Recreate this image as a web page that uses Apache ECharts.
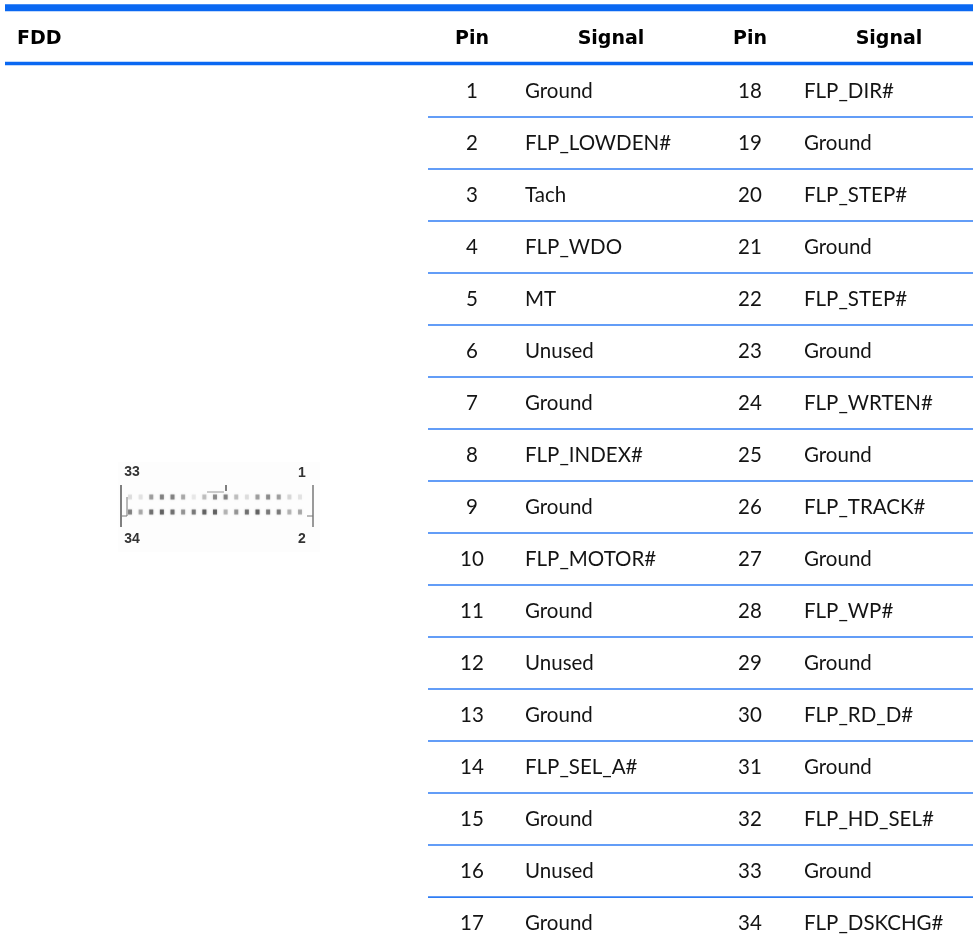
<!DOCTYPE html>
<html>
<head>
  <meta charset="utf-8">
  <title>FDD connector</title>
  <script src="https://cdn.jsdelivr.net/npm/echarts@6/dist/echarts.min.js"></script>
  <style>
    html, body { margin: 0; padding: 0; background: #fff; }
  </style>
</head>
<body>
<div id="main" style="width: 973px;height:947px;"></div>

<script type="text/javascript">
  var headers = ['FDD', 'Pin', 'Signal', 'Pin', 'Signal'];
  var pinsLeft = ['1', '2', '3', '4', '5', '6', '7', '8', '9', '10', '11', '12', '13', '14', '15', '16', '17'];
  var signalsLeft = ['Ground', 'FLP_LOWDEN#', 'Tach', 'FLP_WDO', 'MT', 'Unused', 'Ground', 'FLP_INDEX#', 'Ground',
    'FLP_MOTOR#', 'Ground', 'Unused', 'Ground', 'FLP_SEL_A#', 'Ground', 'Unused', 'Ground'];
  var pinsRight = ['18', '19', '20', '21', '22', '23', '24', '25', '26', '27', '28', '29', '30', '31', '32', '33', '34'];
  var signalsRight = ['FLP_DIR#', 'Ground', 'FLP_STEP#', 'Ground', 'FLP_STEP#', 'Ground', 'FLP_WRTEN#', 'Ground',
    'FLP_TRACK#', 'Ground', 'FLP_WP#', 'Ground', 'FLP_RD_D#', 'Ground', 'FLP_HD_SEL#', 'Ground', 'FLP_DSKCHG#'];
  // how dark each connector pin looks in the scan, pin column 1..17
  var pinsTopDark = [0.12, 0.1, 0.4, 0.55, 0.55, 0.35, 0.08, 0.25, 0.5, 0.55, 0.25, 0.12, 0.4, 0.5, 0.4, 0.15, 0.1];
  var pinsBottomDark = [0.55, 0.35, 0.65, 0.75, 0.65, 0.45, 0.6, 0.75, 0.75, 0.3, 0.45, 0.65, 0.75, 0.6, 0.6, 0.3, 0.35];

  var myChart = echarts.init(document.getElementById('main'));

  // x positions of the table columns
  var colFDD = 17, colPin1 = 472, colSig1 = 525, colPin2 = 750, colSig2 = 804;
  var sigHead1 = 611, sigHead2 = 889;
  var rowFont = 'Lato', headFont = 'DejaVu Sans';

  function textSeries(name, x, values, align, header) {
    return {
      name: name,
      type: 'scatter',
      xAxisIndex: 0,
      yAxisIndex: 0,
      symbolSize: 1,
      silent: true,
      itemStyle: {color: 'transparent', opacity: 1},
      data: values.map(function (v, i) {
        return {value: [x, header ? -1 : i], text: v};
      }),
      label: {
        show: true,
        position: 'inside',
        align: align,
        verticalAlign: 'middle',
        fontFamily: header ? headFont : rowFont,
        fontWeight: header ? 'bold' : 'normal',
        fontSize: header ? 19 : 20.5,
        color: header ? '#000' : '#141414',
        formatter: function (p) {
          return p.data.text;
        }
      }
    };
  }

  // table rules, in row units: header rules run full width, row rules start at the first Pin column
  var ruleData = [[5, -1.6, 7], [5, -0.53, 3.5]];
  for (var r = 0; r < pinsLeft.length - 1; r++) {
    ruleData.push([428, r + 0.5, 1.6]);
  }

  var connectorPins = [];
  for (var k = 0; k < pinsTopDark.length; k++) {
    connectorPins.push([k + 1, 1, pinsTopDark[k]]);
    connectorPins.push([k + 1, 2, pinsBottomDark[k]]);
  }

  var labelStyle = {fontFamily: 'Liberation Sans', fontWeight: 'bold', fontSize: 14, fill: '#333', align: 'center', verticalAlign: 'middle'};

  var option = {
    animation: false,
    backgroundColor: '#fff',
    grid: [
      {left: 0, right: 0, top: 0, bottom: 0},
      {left: 130, width: 170, top: 497, height: 15}
    ],
    xAxis: [
      {type: 'value', min: 0, max: 973, show: false},
      {type: 'value', gridIndex: 1, min: 1, max: 17, show: false}
    ],
    yAxis: [
      {type: 'value', min: -1.75, max: 16.46, inverse: true, show: false},
      {type: 'value', gridIndex: 1, min: 1, max: 2, inverse: true, show: false}
    ],
    graphic: [
      {type: 'rect', z: 0, shape: {x: 118, y: 462, width: 202, height: 90}, style: {fill: '#fdfdfd'}},
      {type: 'line', shape: {x1: 121, y1: 485, x2: 121, y2: 527}, style: {stroke: '#555', lineWidth: 1.5}},
      {type: 'polyline', shape: {points: [[122, 516], [127, 516], [127, 497]]}, style: {stroke: '#777', lineWidth: 1, fill: null}},
      {type: 'line', shape: {x1: 313, y1: 485, x2: 313, y2: 527}, style: {stroke: '#777', lineWidth: 1.5}},
      {type: 'line', shape: {x1: 307, y1: 516, x2: 313, y2: 516}, style: {stroke: '#777', lineWidth: 1}},
      {type: 'line', shape: {x1: 207, y1: 492, x2: 224, y2: 492}, style: {stroke: '#999', lineWidth: 1}},
      {type: 'line', shape: {x1: 226, y1: 485, x2: 226, y2: 491}, style: {stroke: '#555', lineWidth: 1.5}},
      {type: 'text', x: 132, y: 472, style: Object.assign({text: '33'}, labelStyle)},
      {type: 'text', x: 302, y: 473, style: Object.assign({text: '1'}, labelStyle)},
      {type: 'text', x: 132, y: 539, style: Object.assign({text: '34'}, labelStyle)},
      {type: 'text', x: 302, y: 539, style: Object.assign({text: '2'}, labelStyle)}
    ],
    series: [
      {
        type: 'custom',
        silent: true,
        xAxisIndex: 0,
        yAxisIndex: 0,
        data: ruleData,
        renderItem: function (params, api) {
          var a = api.coord([api.value(0), api.value(1)]);
          var b = api.coord([973, api.value(1)]);
          var w = api.value(2);
          return {
            type: 'rect',
            shape: {x: a[0], y: a[1] - w / 2, width: b[0] - a[0], height: w},
            style: {fill: w > 2 ? '#0a68f2' : '#2f7df4'}
          };
        }
      },
      {
        type: 'custom',
        silent: true,
        xAxisIndex: 1,
        yAxisIndex: 1,
        data: connectorPins,
        renderItem: function (params, api) {
          var c = api.coord([api.value(0), api.value(1)]);
          return {
            type: 'rect',
            shape: {x: c[0] - 2, y: c[1] - 2.5, width: 4, height: 5},
            style: {fill: '#444', opacity: api.value(2), shadowBlur: 2, shadowColor: '#999'}
          };
        }
      },
      textSeries('headFDD', colFDD, [headers[0]], 'left', true),
      textSeries('headPin1', colPin1, [headers[1]], 'center', true),
      textSeries('headSig1', sigHead1, [headers[2]], 'center', true),
      textSeries('headPin2', colPin2, [headers[3]], 'center', true),
      textSeries('headSig2', sigHead2, [headers[4]], 'center', true),
      textSeries('pinLeft', colPin1, pinsLeft, 'center', false),
      textSeries('signalLeft', colSig1, signalsLeft, 'left', false),
      textSeries('pinRight', colPin2, pinsRight, 'center', false),
      textSeries('signalRight', colSig2, signalsRight, 'left', false)
    ]
  };

  myChart.setOption(option);
</script>
</body>
</html>
